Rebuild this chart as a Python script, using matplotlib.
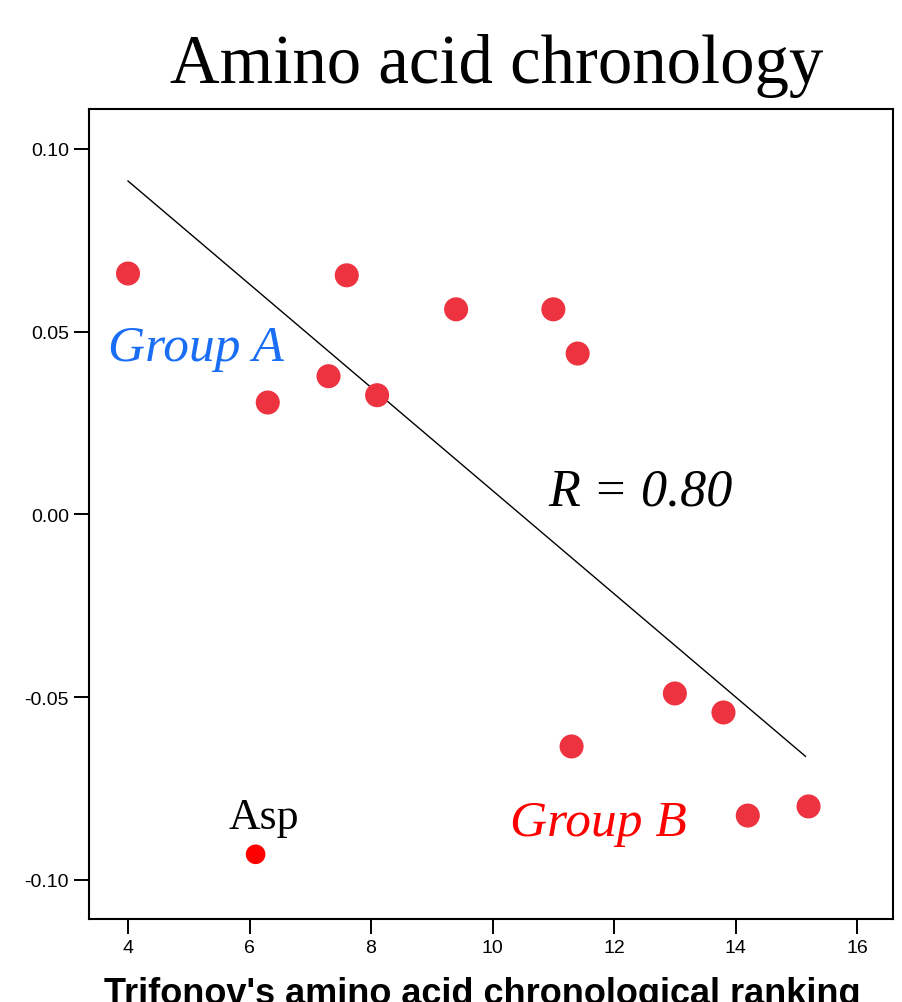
import matplotlib
matplotlib.use('Agg')
import matplotlib.pyplot as plt

# Trifonov ranking vs. chronology score
rank = [4.0, 7.6, 9.4, 11.0, 11.4, 6.3, 7.3, 8.1, 13.0, 13.8, 11.3, 14.2, 15.2]
score = [0.0659, 0.0654, 0.0561, 0.0561, 0.0440, 0.0306, 0.0378, 0.0326,
         -0.0490, -0.0542, -0.0635, -0.0824, -0.0799]
asp_rank = [6.1]
asp_score = [-0.0930]

# regression line end points
fit_x = [4.0, 15.15]
fit_y = [0.0912, -0.0662]

xticks = [4, 6, 8, 10, 12, 14, 16]
yticks = [0.10, 0.05, 0.00, -0.05, -0.10]
ytick_labels = ['0.10', '0.05', '0.00', '-0.05', '-0.10']

fig = plt.figure(figsize=(9.03, 10.03), dpi=100)
ax = fig.add_axes([89 / 903, 1 - 920 / 1003, 804 / 903, 810 / 1003])

ax.plot(fit_x, fit_y, color='black', linewidth=1.0)
ax.scatter(rank, score, s=300, color='#EE3340', edgecolors='none', zorder=3)
ax.scatter(asp_rank, asp_score, s=200, color='#FF0000', edgecolors='none', zorder=3)

ax.set_xlim(3.358, 16.59)
ax.set_ylim(-0.1107, 0.1109)
ax.set_xticks(xticks)
ax.set_yticks(yticks)
ax.set_yticklabels(ytick_labels)
ax.tick_params(direction='out', length=10.5, width=1.4, labelsize=14, pad=4)
for lbl in ax.get_xticklabels() + ax.get_yticklabels():
    lbl.set_family('Liberation Sans')
for sp in ax.spines.values():
    sp.set_linewidth(1.5)

serif = 'Liberation Serif'
ax.text(5.12, 0.0455, 'Group A', family=serif, style='italic', fontsize=37,
        color='#1A6EF5', ha='center', va='center')
ax.text(11.74, -0.0845, 'Group B', family=serif, style='italic', fontsize=37,
        color='#FF0000', ha='center', va='center')
ax.text(12.43, 0.0062, 'R = 0.80', family=serif, style='italic', fontsize=37.5,
        color='black', ha='center', va='center')
ax.text(6.24, -0.0828, 'Asp', family=serif, fontsize=31.5, color='black',
        ha='center', va='center')

fig.text(497 / 903, 1 - 83 / 1003, 'Amino acid chronology', family=serif,
         fontsize=49.5, ha='center', va='baseline')
fig.text(482 / 903, 1 - 1004 / 1003, "Trifonov's amino acid chronological ranking",
         family='Liberation Sans', fontweight='bold', fontsize=26,
         ha='center', va='baseline')

fig.savefig('out.png', dpi=100)
